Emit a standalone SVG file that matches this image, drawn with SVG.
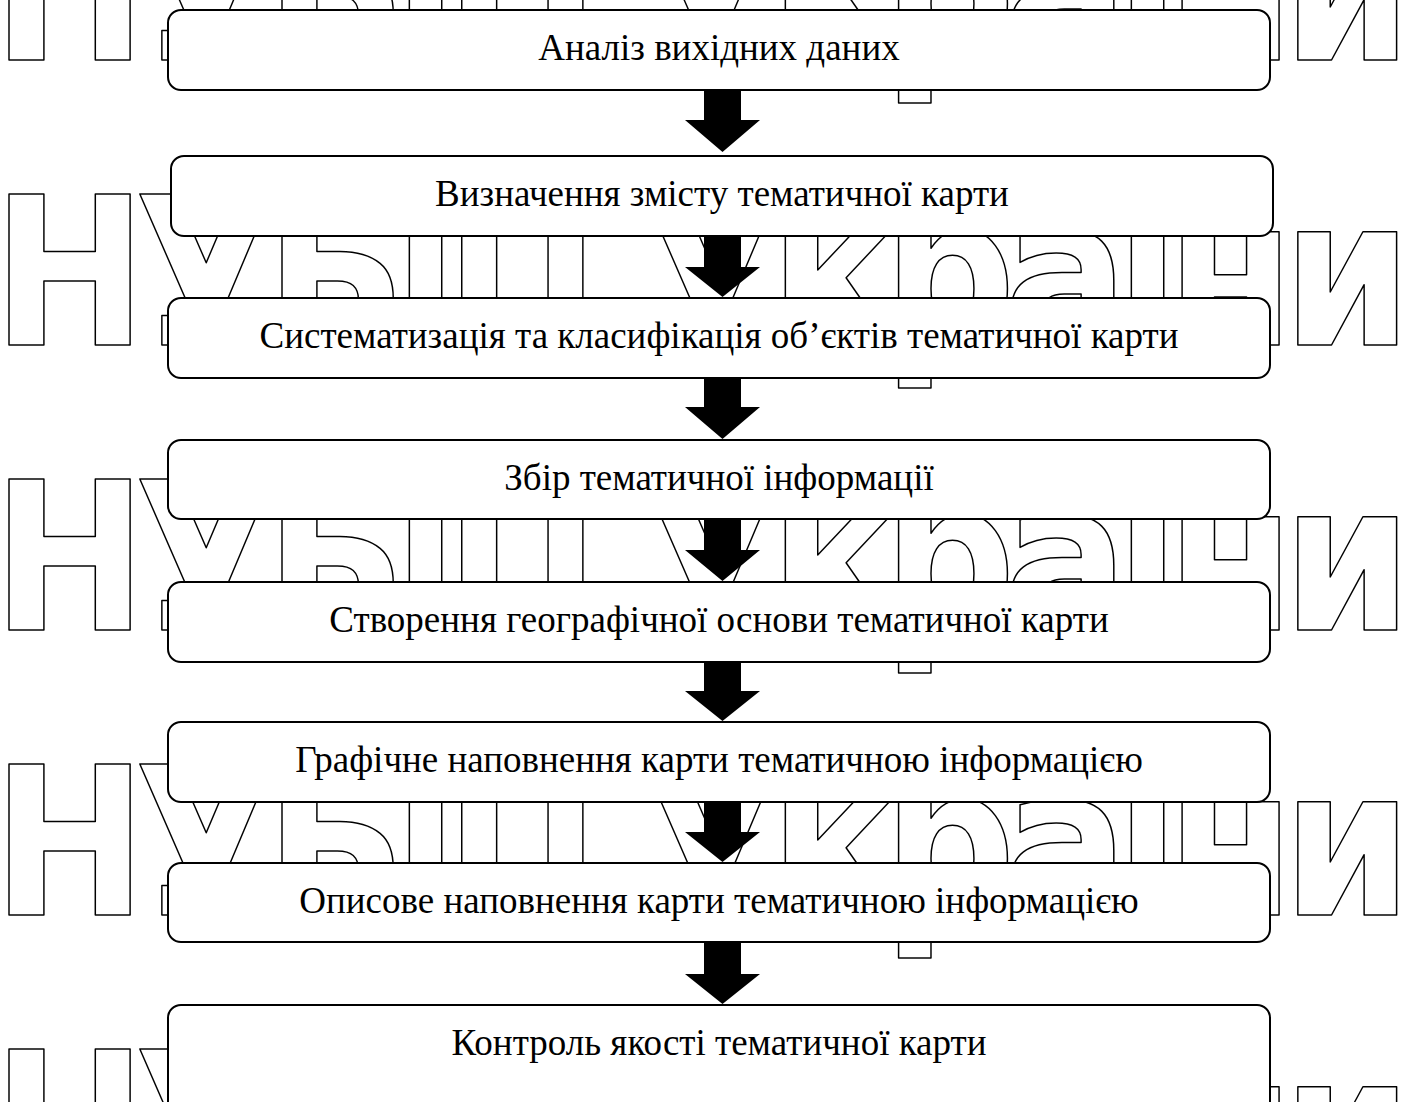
<svg xmlns="http://www.w3.org/2000/svg" width="1405" height="1102" viewBox="0 0 1405 1102">
<style>
.wm{font-family:'DejaVu Sans Condensed','DejaVu Sans',sans-serif;font-stretch:condensed;font-weight:bold;font-size:206px;fill:none;stroke:#000;stroke-width:1.5;stroke-linejoin:round}
.box{fill:#fff;stroke:#000;stroke-width:2}
.lbl{font-family:'Liberation Serif','Times New Roman',serif;font-size:37px;fill:#000;text-anchor:middle}
.arr{fill:#000}
</style>
<rect width="1405" height="1102" fill="#fff"/>
<g id="watermark">
<text class="wm" x="-8" y="60" textLength="1420" lengthAdjust="spacing">НУБіП України</text>
<text class="wm" x="-8" y="345" textLength="1420" lengthAdjust="spacing">НУБіП України</text>
<text class="wm" x="-8" y="630" textLength="1420" lengthAdjust="spacing">НУБіП України</text>
<text class="wm" x="-8" y="915" textLength="1420" lengthAdjust="spacing">НУБіП України</text>
<text class="wm" x="-8" y="1200" textLength="1420" lengthAdjust="spacing">НУБіП України</text>
</g>
<g id="n1"><rect class="box" x="168" y="10" width="1102" height="80" rx="13"/><text class="lbl" x="719" y="60">Аналіз вихідних даних</text></g>
<g id="n2"><rect class="box" x="171" y="156" width="1102" height="80" rx="13"/><text class="lbl" x="722" y="206">Визначення змісту тематичної карти</text></g>
<g id="n3"><rect class="box" x="168" y="298" width="1102" height="80" rx="13"/><text class="lbl" x="719" y="348">Систематизація та класифікація об’єктів тематичної карти</text></g>
<g id="n4"><rect class="box" x="168" y="440" width="1102" height="79" rx="13"/><text class="lbl" x="719" y="490">Збір тематичної інформації</text></g>
<g id="n5"><rect class="box" x="168" y="582" width="1102" height="80" rx="13"/><text class="lbl" x="719" y="632">Створення географічної основи тематичної карти</text></g>
<g id="n6"><rect class="box" x="168" y="722" width="1102" height="80" rx="13"/><text class="lbl" x="719" y="772">Графічне наповнення карти тематичною інформацією</text></g>
<g id="n7"><rect class="box" x="168" y="863" width="1102" height="79" rx="13"/><text class="lbl" x="719" y="913">Описове наповнення карти тематичною інформацією</text></g>
<g id="n8"><rect class="box" x="168" y="1005" width="1102" height="120" rx="13"/><text class="lbl" x="719" y="1055">Контроль якості тематичної карти</text></g>
<g id="connectors">
<polygon class="arr" points="704,91 741,91 741,120 760,120 722.5,152 685,120 704,120"/>
<polygon class="arr" points="704,237 741,237 741,267 760,267 722.5,297 685,267 704,267"/>
<polygon class="arr" points="704,379 741,379 741,407 760,407 722.5,439 685,407 704,407"/>
<polygon class="arr" points="704,520 741,520 741,550 760,550 722.5,581 685,550 704,550"/>
<polygon class="arr" points="704,663 741,663 741,691 760,691 722.5,721 685,691 704,691"/>
<polygon class="arr" points="704,803 741,803 741,832 760,832 722.5,862 685,832 704,832"/>
<polygon class="arr" points="704,943 741,943 741,974 760,974 722.5,1004 685,974 704,974"/>
</g>
</svg>
